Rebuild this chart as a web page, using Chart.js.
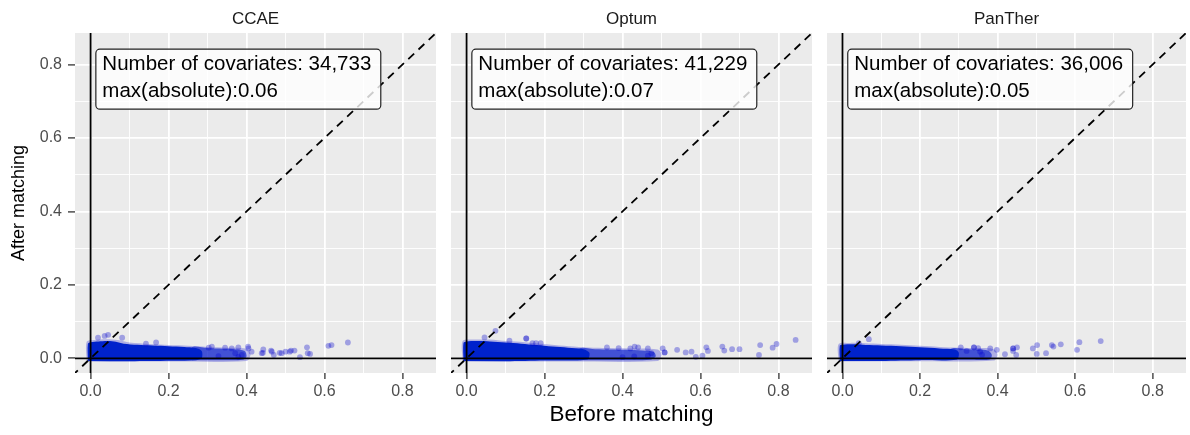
<!DOCTYPE html>
<html>
<head>
<meta charset="utf-8">
<script src="https://cdn.jsdelivr.net/npm/chart.js@4.4.1/dist/chart.umd.min.js"></script>
<style>
  body { margin: 0; background: #fff; }
  #wrap { position: relative; width: 1190px; height: 435px; background: #fff; }
  canvas { position: absolute; top: 0; }
</style>
</head>
<body>
<div id="wrap">
  <canvas id="c0" width="440" height="435" style="left:0px"></canvas>
  <canvas id="c1" width="376" height="435" style="left:440px"></canvas>
  <canvas id="c2" width="375" height="435" style="left:815px"></canvas>
</div>
<script>
// facet names and the text of each panel's label box
const panelNames = ['CCAE', 'Optum', 'PanTher'];
const covariateCounts = ['34,733', '41,229', '36,006'];
const maxAbsolute = ['0.06', '0.07', '0.05'];

// axis ticks (same on both axes)
const gridValues = [0, 0.1, 0.2, 0.3, 0.4, 0.5, 0.6, 0.7, 0.8];
const majorTicks = [0, 0.2, 0.4, 0.6, 0.8];
const axisRange = [-0.04, 0.886];
const refLine = [-0.1, 1];

// dense cloud of covariates (too many to plot one by one): outline of the solid core,
// the thinner part to the right and the faint halo, as [before, after] pairs
const ccaeDense = [[-0.007,-0.007],[-0.007,0.040],[0.0,0.044],[0.02,0.046],[0.045,0.047],[0.065,0.045],[0.085,0.040],[0.12,0.037],[0.16,0.035],[0.2,0.033],[0.24,0.031],[0.27,0.028],[0.285,0.02],[0.285,0.0],[0.27,-0.005],[0.15,-0.007],[0.05,-0.008]];
const ccaeMid = [[0.26,-0.005],[0.26,0.030],[0.3,0.028],[0.34,0.026],[0.37,0.025],[0.395,0.02],[0.40,0.005],[0.39,-0.004],[0.33,-0.005]];
const ccaeHalo = [[-0.01,-0.009],[-0.01,0.045],[0.01,0.050],[0.04,0.052],[0.07,0.050],[0.1,0.043],[0.15,0.039],[0.2,0.036],[0.25,0.034],[0.3,0.031],[0.35,0.029],[0.4,0.026],[0.41,0.01],[0.4,-0.007],[0.2,-0.009]];
const ccaePoints = [[0.019,0.056],[0.036,0.061],[0.045,0.064],[0.081,0.056],[0.142,0.040],[0.168,0.043],
  [0.303,0.029],[0.311,0.032],[0.345,0.029],[0.362,0.027],[0.379,0.03],[0.404,0.032],[0.328,0.006],[0.379,0.004],
  [0.371,0.014],[0.388,0.009],[0.405,0.027],[0.413,0.018],[0.439,0.014],[0.442,0.015],[0.443,0.024],[0.463,0.021],
  [0.465,0.018],[0.47,0.009],[0.485,0.015],[0.49,0.014],[0.50,0.018],[0.511,0.018],[0.514,0.021],[0.523,0.021],
  [0.537,0.003],[0.555,0.03],[0.557,0.014],[0.563,0.012],[0.61,0.034],[0.618,0.036],[0.66,0.043]];

const optumDense = [[-0.008,-0.007],[-0.008,0.042],[0.0,0.046],[0.03,0.047],[0.06,0.046],[0.1,0.043],[0.14,0.040],[0.18,0.036],[0.22,0.032],[0.26,0.029],[0.3,0.025],[0.315,0.015],[0.31,-0.003],[0.2,-0.006],[0.1,-0.008]];
const optumMid = [[0.29,-0.005],[0.29,0.027],[0.33,0.025],[0.37,0.024],[0.41,0.023],[0.45,0.021],[0.48,0.017],[0.485,0.005],[0.47,-0.004],[0.38,-0.005]];
const optumHalo = [[-0.01,-0.009],[-0.01,0.047],[0.02,0.051],[0.06,0.051],[0.1,0.047],[0.15,0.044],[0.2,0.039],[0.25,0.034],[0.3,0.030],[0.35,0.028],[0.42,0.027],[0.49,0.024],[0.5,0.01],[0.49,-0.007],[0.25,-0.009]];
const optumPoints = [[0.046,0.057],[0.074,0.075],[0.11,0.048],[0.153,0.054],[0.153,0.054],[0.169,0.041],[0.178,0.041],[0.19,0.041],
  [0.36,0.03],[0.39,0.028],[0.42,0.027],[0.431,0.032],[0.44,0.03],[0.40,0.003],[0.43,0.005],
  [0.465,0.027],[0.465,0.007],[0.474,0.014],[0.503,0.027],[0.508,0.016],[0.508,0.016],[0.54,0.023],[0.562,0.016],
  [0.577,0.018],[0.588,0.004],[0.605,0.007],[0.615,0.03],[0.619,0.02],[0.656,0.032],[0.661,0.021],[0.681,0.025],
  [0.70,0.025],[0.753,0.036],[0.75,0.009],[0.785,0.029],[0.795,0.039],[0.844,0.05]];

const pantherDense = [[-0.007,-0.007],[-0.007,0.034],[0.0,0.037],[0.03,0.038],[0.06,0.036],[0.1,0.035],[0.15,0.033],[0.2,0.03],[0.25,0.027],[0.29,0.024],[0.3,0.015],[0.295,-0.003],[0.2,-0.005],[0.1,-0.007]];
const pantherMid = [[0.28,-0.004],[0.28,0.026],[0.32,0.025],[0.35,0.024],[0.375,0.021],[0.385,0.01],[0.38,-0.003],[0.33,-0.004]];
const pantherHalo = [[-0.01,-0.009],[-0.01,0.039],[0.02,0.042],[0.06,0.041],[0.1,0.039],[0.15,0.037],[0.2,0.034],[0.25,0.031],[0.3,0.029],[0.35,0.028],[0.39,0.025],[0.40,0.01],[0.39,-0.006],[0.2,-0.008]];
const pantherPoints = [[0.068,0.052],[0.042,0.041],[0.305,0.03],[0.32,0.02],[0.339,0.03],[0.339,0.03],[0.35,0.028],[0.355,0.018],
  [0.36,0.01],[0.381,0.027],[0.398,0.023],[0.419,0.011],[0.44,0.027],[0.44,0.027],[0.44,0.02],[0.448,0.009],[0.45,0.03],
  [0.491,0.027],[0.502,0.036],[0.501,0.012],[0.525,0.014],[0.54,0.036],[0.544,0.032],[0.563,0.038],[0.605,0.023],
  [0.611,0.044],[0.666,0.047]];

const panelData = [
  { dense: ccaeDense, mid: ccaeMid, halo: ccaeHalo, points: ccaePoints },
  { dense: optumDense, mid: optumMid, halo: optumHalo, points: optumPoints },
  { dense: pantherDense, mid: pantherMid, halo: pantherHalo, points: pantherPoints }
];

Chart.defaults.font.family = '"Liberation Sans", Arial, Helvetica, sans-serif';

const toXY = arr => arr.map(([x, y]) => ({ x, y }));
const isMajor = v => majorTicks.some(m => Math.abs(m - v) < 1e-6);

// grey panel, strip title on top and the label box
const panelDecor = {
  id: 'panelDecor',
  beforeDraw(chart) {
    const a = chart.chartArea, ctx = chart.ctx;
    ctx.save();
    ctx.fillStyle = '#EBEBEB';
    ctx.fillRect(a.left, a.top, a.right - a.left, a.bottom - a.top);
    ctx.restore();
  },
  afterDatasetsDraw(chart, args, opts) {
    const ctx = chart.ctx;
    const x = chart.scales.x.getPixelForValue(opts.anchor[0]);
    const y = chart.scales.y.getPixelForValue(opts.anchor[1]);
    ctx.save();
    ctx.font = '20.5px "Liberation Sans", Arial, sans-serif';
    const w = Math.max(...opts.lines.map(t => ctx.measureText(t).width)) + 16;
    const h = 60, r = 4;
    ctx.beginPath();
    ctx.moveTo(x + r, y);
    ctx.lineTo(x + w - r, y);
    ctx.arcTo(x + w, y, x + w, y + r, r);
    ctx.lineTo(x + w, y + h - r);
    ctx.arcTo(x + w, y + h, x + w - r, y + h, r);
    ctx.lineTo(x + r, y + h);
    ctx.arcTo(x, y + h, x, y + h - r, r);
    ctx.lineTo(x, y + r);
    ctx.arcTo(x, y, x + r, y, r);
    ctx.closePath();
    ctx.fillStyle = 'rgba(255,255,255,0.8)';
    ctx.fill();
    ctx.lineWidth = 1.2;
    ctx.strokeStyle = '#222';
    ctx.stroke();
    ctx.fillStyle = '#000';
    ctx.textBaseline = 'middle';
    ctx.textAlign = 'left';
    opts.lines.forEach((t, i) => ctx.fillText(t, x + 6.5, y + 15.5 + i * 27));
    ctx.restore();
  },
  afterDraw(chart, args, opts) {
    const a = chart.chartArea, ctx = chart.ctx;
    ctx.save();
    ctx.font = '17px "Liberation Sans", Arial, sans-serif';
    ctx.fillStyle = '#1A1A1A';
    ctx.textAlign = 'center';
    ctx.textBaseline = 'middle';
    ctx.fillText(opts.title, (a.left + a.right) / 2, 19);
    ctx.restore();
  }
};

function gridOpts(tickLength, drawTicks) {
  return {
    color: '#FFFFFF',
    lineWidth: c => (c.tick && isMajor(c.tick.value)) ? 1.8 : 0.9,
    drawTicks: drawTicks,
    tickLength: tickLength,
    tickWidth: 1.3,
    tickColor: c => (c.tick && isMajor(c.tick.value)) ? '#333333' : 'rgba(0,0,0,0)'
  };
}

function makePanel(i) {
  const p = panelData[i];
  const first = i === 0;
  const pads = [{ left: 0, right: 1 }, { left: 11, right: 1 }, { left: 12, right: 0 }][i];
  new Chart(document.getElementById('c' + i), {
    type: 'scatter',
    data: {
      datasets: [
        { type: 'line', data: toXY(refLine.map(v => [v, v])), borderColor: '#000', borderWidth: 1.8,
          borderDash: [8, 6], pointRadius: 0, fill: false, clip: 0, order: 0 },
        { type: 'line', data: toXY(refLine.map(v => [v, 0])), borderColor: '#000', borderWidth: 1.8,
          pointRadius: 0, fill: false, clip: 0, order: 1 },
        { type: 'line', data: toXY(refLine.map(v => [0, v])), borderColor: '#000', borderWidth: 1.8,
          pointRadius: 0, fill: false, clip: 0, order: 1 },
        { type: 'scatter', data: toXY(p.points), backgroundColor: 'rgba(0,0,205,0.32)', borderWidth: 0,
          pointRadius: 2.9, order: 2 },
        { type: 'line', data: toXY(p.dense), fill: 'shape', backgroundColor: 'rgb(0,34,204)',
          borderColor: 'rgba(0,0,0,0)', borderWidth: 0, pointRadius: 0, tension: 0.3, clip: 0, order: 3 },
        { type: 'line', data: toXY(p.mid), fill: 'shape', backgroundColor: 'rgba(0,24,205,0.62)',
          borderColor: 'rgba(0,0,0,0)', borderWidth: 0, pointRadius: 0, tension: 0.3, clip: 0, order: 4 },
        { type: 'line', data: toXY(p.halo), fill: 'shape', backgroundColor: 'rgba(0,0,205,0.26)',
          borderColor: 'rgba(0,0,0,0)', borderWidth: 0, pointRadius: 0, tension: 0.3, clip: 0, order: 5 }
      ]
    },
    options: {
      responsive: false,
      animation: false,
      devicePixelRatio: 1,
      events: [],
      layout: { padding: { top: 33, bottom: 0, left: pads.left, right: pads.right } },
      scales: {
        x: {
          type: 'linear', min: axisRange[0], max: axisRange[1],
          afterBuildTicks: s => { s.ticks = gridValues.map(v => ({ value: v })); },
          afterFit: s => { s.height = 62; },
          border: { display: false },
          grid: gridOpts(6, true),
          ticks: { autoSkip: false, maxRotation: 0, padding: 3, color: '#4D4D4D', font: { size: 16 },
            callback: v => isMajor(v) ? v.toFixed(1) : '' },
          title: { display: i === 1, text: 'Before matching', color: '#000', font: { size: 22.5 },
            padding: { top: 0, bottom: 7 } }
        },
        y: {
          type: 'linear', min: axisRange[0], max: axisRange[1],
          afterBuildTicks: s => { s.ticks = gridValues.map(v => ({ value: v })); },
          afterFit: s => { s.width = first ? 75 : 0; },
          border: { display: false },
          grid: gridOpts(7, first),
          ticks: { display: first, autoSkip: false, padding: 6, color: '#4D4D4D', font: { size: 16 },
            callback: v => isMajor(v) ? v.toFixed(1) : '' },
          title: { display: first, text: 'After matching', color: '#000', font: { size: 18 },
            padding: { top: 8, bottom: 0 } }
        }
      },
      plugins: {
        legend: { display: false },
        tooltip: { enabled: false },
        panelDecor: {
          title: panelNames[i],
          anchor: [0.0135, 0.842],
          lines: ['Number of covariates: ' + covariateCounts[i], 'max(absolute):' + maxAbsolute[i]]
        }
      }
    },
    plugins: [panelDecor]
  });
}

[0, 1, 2].forEach(makePanel);
</script>
</body>
</html>
